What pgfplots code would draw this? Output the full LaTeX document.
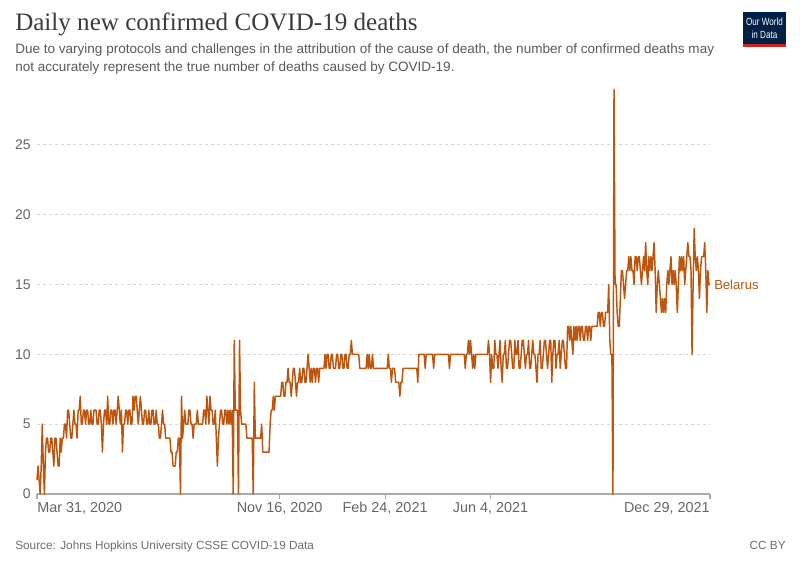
\documentclass[border=0pt]{standalone}
\usepackage{pgfplots}
\pgfplotsset{compat=1.18}
\usepackage{pgfplotstable}
\usepackage{fontspec}
\setmainfont{Liberation Sans}
\newfontfamily\titlefont{Liberation Serif}
\definecolor{owid}{RGB}{190,85,14}
\definecolor{titlegray}{RGB}{60,60,60}
\definecolor{subgray}{RGB}{90,90,90}
\definecolor{tickgray}{RGB}{102,102,102}
\definecolor{srcgray}{RGB}{110,110,110}
\definecolor{gridgray}{RGB}{215,215,215}
\definecolor{axisgray}{RGB}{170,170,170}
\definecolor{owidnavy}{RGB}{0,33,71}
\definecolor{owidred}{RGB}{206,38,30}

\pgfplotstableread[header=false, row sep=\\]{
1\\2\\1\\0\\2\\5\\2\\0\\3\\
4\\4\\3\\3\\4\\4\\3\\
2\\4\\4\\3\\2\\2\\4\\3\\4\\
4\\5\\5\\4\\6\\6\\5\\4\\4\\5\\6\\5\\5\\4\\6\\6\\7\\
5\\5\\6\\6\\5\\6\\6\\5\\5\\6\\5\\5\\6\\6\\6\\5\\5\\6\\6\\5\\
3\\5\\6\\6\\5\\7\\5\\5\\6\\6\\5\\6\\6\\5\\6\\7\\6\\5\\6\\3\\
5\\5\\6\\6\\5\\6\\6\\5\\5\\7\\6\\7\\7\\6\\5\\6\\7\\
6\\5\\5\\6\\6\\5\\5\\6\\5\\5\\6\\6\\5\\5\\6\\5\\5\\4\\4\\5\\6\\5\\5\\4\\
4\\4\\4\\4\\3\\3\\2\\2\\2\\3\\3\\4\\4\\0\\7\\
4\\5\\6\\5\\5\\5\\6\\6\\5\\5\\4\\5\\5\\5\\6\\5\\5\\5\\5\\
5\\6\\6\\5\\7\\6\\5\\7\\6\\6\\5\\5\\6\\4\\2\\4\\5\\6\\6\\5\\5\\6\\6\\5\\6\\5\\
6\\5\\6\\0\\11\\6\\6\\6\\0\\11\\6\\5\\5\\5\\5\\5\\4\\4\\4\\4\\4\\4\\0\\8\\
4\\4\\4\\4\\4\\4\\5\\3\\3\\3\\3\\3\\3\\3\\5\\6\\6\\7\\6\\7\\7\\7\\7\\7\\7\\
8\\8\\7\\7\\8\\8\\9\\8\\8\\7\\8\\9\\9\\8\\7\\8\\8\\9\\8\\8\\9\\9\\8\\8\\
9\\10\\9\\8\\9\\8\\9\\9\\8\\9\\9\\8\\9\\9\\9\\9\\9\\10\\9\\
10\\10\\9\\9\\10\\10\\9\\9\\9\\10\\10\\9\\9\\10\\10\\9\\9\\10\\10\\9\\9\\10\\10\\
11\\10\\10\\10\\10\\10\\10\\10\\
9\\9\\9\\9\\9\\9\\9\\10\\9\\10\\9\\9\\10\\9\\9\\9\\9\\9\\9\\9\\9\\9\\9\\9\\9\\9\\9\\
10\\9\\9\\8\\9\\9\\9\\8\\8\\8\\8\\7\\8\\8\\9\\9\\
9\\9\\9\\9\\9\\9\\9\\9\\9\\9\\9\\9\\8\\
10\\10\\10\\10\\10\\10\\9\\10\\10\\10\\10\\10\\10\\10\\9\\
10\\10\\10\\10\\10\\10\\10\\10\\10\\10\\10\\10\\10\\10\\9\\
10\\10\\10\\10\\10\\10\\10\\10\\10\\10\\10\\10\\10\\10\\9\\
10\\10\\11\\10\\11\\10\\9\\10\\9\\10\\
10\\10\\10\\10\\10\\10\\10\\10\\10\\10\\10\\11\\10\\8\\
10\\9\\9\\11\\10\\10\\9\\10\\11\\9\\8\\
10\\10\\11\\9\\9\\10\\11\\11\\10\\9\\9\\11\\10\\10\\11\\9\\9\\10\\11\\11\\10\\9\\10\\10\\11\\9\\9\\10\\11\\10\\10\\9\\8\\
10\\10\\11\\9\\9\\10\\11\\11\\10\\9\\10\\11\\11\\8\\
10\\11\\11\\9\\10\\10\\11\\9\\10\\11\\11\\10\\9\\9\\
12\\12\\11\\12\\11\\10\\12\\11\\12\\
11\\12\\12\\11\\12\\12\\11\\11\\12\\12\\11\\12\\12\\11\\12\\12\\12\\12\\12\\12\\
13\\13\\12\\13\\13\\12\\12\\13\\13\\
13\\15\\11\\10\\10\\0\\29\\15\\15\\13\\12\\12\\
14\\16\\16\\15\\14\\15\\16\\16\\17\\16\\
17\\16\\16\\15\\17\\17\\16\\17\\17\\16\\15\\16\\17\\16\\
18\\16\\15\\17\\16\\17\\16\\17\\18\\16\\13\\15\\16\\
15\\14\\13\\14\\13\\14\\13\\15\\16\\15\\16\\17\\15\\16\\15\\16\\15\\13\\
15\\17\\16\\17\\16\\17\\15\\16\\17\\18\\17\\17\\16\\
10\\15\\19\\17\\16\\17\\16\\14\\16\\17\\17\\17\\18\\16\\13\\16\\15\\15\\
}\deaths

\begin{document}
\begin{tikzpicture}[x=0.75pt,y=0.75pt]
\path[use as bounding box, fill=white] (0,0) rectangle (800,565);
% title and subtitle
\node[anchor=base west, inner sep=0pt, text=titlegray, font=\titlefont\fontsize{18.8}{22}\selectfont] at (15,534) {Daily new confirmed COVID-19 deaths};
\node[anchor=base west, inner sep=0pt, text=subgray, font=\fontsize{10.15}{12}\selectfont] at (15,511) {Due to varying protocols and challenges in the attribution of the cause of death, the number of confirmed deaths may};
\node[anchor=base west, inner sep=0pt, text=subgray, font=\fontsize{10.15}{12}\selectfont] at (15,493) {not accurately represent the true number of deaths caused by COVID-19.};
% logo
\fill[owidnavy] (743,553) rectangle (786,518);
\fill[owidred] (743,521) rectangle (786,518);
\node[text=white, inner sep=0pt, font=\fontsize{7.8}{8}\selectfont] at (764.5,543) {\scalebox{0.78}[1]{Our World}};
\node[text=white, inner sep=0pt, font=\fontsize{7.8}{8}\selectfont] at (764.5,530) {\scalebox{0.78}[1]{in Data}};
% footer
\node[anchor=base west, inner sep=0pt, text=srcgray, font=\fontsize{8.85}{10}\selectfont] at (15,16) {Source: Johns Hopkins University CSSE COVID-19 Data};
\node[anchor=base east, inner sep=0pt, text=srcgray, font=\fontsize{8.85}{10}\selectfont] at (786,16) {CC BY};
\begin{axis}[
  at={(27.75pt,53.25pt)}, anchor=south west,
  scale only axis, width=504.75pt, height=303.75pt,
  xmin=0, xmax=638, ymin=0, ymax=29,
  axis lines*=left,
  clip=false,
  y axis line style={draw=none},
  x axis line style={draw=axisgray, line width=0.8pt},
  ytick={0,5,10,15,20,25},
  ymajorgrids,
  grid style={dash pattern=on 2.5pt off 2pt, draw=gridgray, line width=0.6pt},
  ytick style={draw=none},
  xtick={0,230,330,430,638},
  xticklabels={},
  xtick style={draw=axisgray, line width=0.8pt},
  tick align=outside,
  major tick length=4pt,
  yticklabel style={inner sep=0pt, text=tickgray, font=\fontsize{10.5}{12}\selectfont, xshift=-0.5pt},
  /pgf/number format/assume math mode=true,
]
\addplot[owid, line width=1.1pt, line join=round] table[x expr=\coordindex, y index=0] {\deaths};
\node[anchor=north west, inner sep=0pt, text=tickgray, font=\fontsize{10.8}{12}\selectfont, yshift=-6pt] at (axis cs:0,0) {Mar 31, 2020};
\node[anchor=north, inner sep=0pt, text=tickgray, font=\fontsize{10.8}{12}\selectfont, yshift=-6pt] at (axis cs:230,0) {Nov 16, 2020};
\node[anchor=north, inner sep=0pt, text=tickgray, font=\fontsize{10.8}{12}\selectfont, yshift=-6pt] at (axis cs:330,0) {Feb 24, 2021};
\node[anchor=north, inner sep=0pt, text=tickgray, font=\fontsize{10.8}{12}\selectfont, yshift=-6pt] at (axis cs:430,0) {Jun 4, 2021};
\node[anchor=north east, inner sep=0pt, text=tickgray, font=\fontsize{10.8}{12}\selectfont, yshift=-6pt] at (axis cs:638,0) {Dec 29, 2021};
\node[anchor=west, inner sep=0pt, text=owid, font=\fontsize{9.8}{12}\selectfont, xshift=3pt] at (axis cs:638,15) {Belarus};
\end{axis}
\end{tikzpicture}
\end{document}
